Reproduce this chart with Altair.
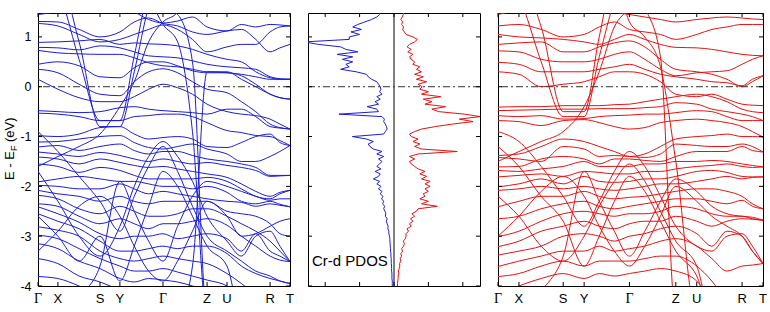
import altair as alt
import pandas as pd

BLUE = "#1c1cd9"
RED = "#e81010"
FONT = "Liberation Sans"

# k-path: sampling points along the path and the labelled high-symmetry points
K_GRID = [0.0, 0.079, 0.163, 0.246, 0.325, 0.382, 0.439, 0.496, 0.554,
          0.613, 0.671, 0.75, 0.807, 0.864, 0.921, 0.96, 1.0]
K_TICKS = [0.0, 0.079, 0.246, 0.325, 0.496, 0.671, 0.75, 0.921, 1.0]
K_NAMES = ["Γ", "X", "S", "Y", "Γ", "Z", "U", "R", "T"]
E_TICKS = [-4, -3, -2, -1, 0, 1]
DOS_TICKS = [-2, -1, 0, 1, 2]
E_MIN, E_MAX = -4.0, 1.48
HI, LO = 2.2, -4.6  # energies outside the window (clipped)

# spin-down bands (eV), one row per band, one value per K_GRID point
bands_dn = [
    [1.45, 1.52, 1.70, 1.75, 1.60, 1.50, 1.35, 1.28, 1.32, 1.40, 1.20, 1.12, 1.25, 1.20, 1.25, 1.24, 1.22],
    [1.31, 1.30, 1.15, 1.00, 1.10, 1.30, 1.38, 1.27, 1.22, 1.10, 1.05, 1.12, 1.15, 0.95, 0.70, 0.78, 0.85],
    [1.27, 1.22, 1.05, 0.90, 0.95, 1.05, 1.15, 1.24, 1.15, 0.95, 0.70, 0.80, 0.85, 0.85, 1.10, 1.20, 1.22],
    [0.89, 0.90, 0.92, 0.95, 0.85, 0.88, 0.86, 0.85, 0.82, 0.75, 0.65, 0.55, 0.50, 0.30, 0.18, 0.15, 0.15],
    [0.79, 0.78, 0.74, 0.82, 0.78, 0.70, 0.62, 0.60, 0.58, 0.52, 0.45, 0.40, 0.38, 0.35, 0.20, 0.16, 0.15],
    [0.73, 0.68, 0.66, 0.65, 0.65, 0.58, 0.48, 0.42, 0.40, 0.35, 0.30, 0.30, 0.15, 0.00, -0.15, -0.22, -0.25],
    [0.45, 0.50, 0.42, 0.20, 0.18, 0.38, 0.50, 0.50, 0.42, 0.32, 0.28, 0.28, 0.22, 0.05, -0.15, -0.22, -0.25],
    [0.35, 0.28, 0.05, -0.15, -0.18, 0.10, 0.30, 0.36, 0.28, 0.10, -0.05, -0.12, -0.30, -0.50, -0.75, -0.82, -0.85],
    [0.15, -0.05, -0.22, -0.30, -0.30, -0.20, -0.05, 0.05, -0.02, -0.15, -0.35, -0.50, -0.55, -0.58, -0.65, -0.75, -0.85],
    [HI, 1.90, 0.55, -0.68, -0.68, 0.62, 1.90, HI],
    [HI, HI, 0.90, -0.80, -0.80, 0.30, 1.60, HI],
    [-1.60, -1.40, -1.20, -0.95, -0.40, 0.10, 0.90, 1.30, 1.50, HI],
    [HI, HI, HI, HI, HI, HI, HI, 1.60, 1.45, 0.50, LO],
    [HI, HI, HI, HI, HI, HI, 1.80, 1.25, 0.90, -0.90, LO],
    [-0.48, -0.50, -0.52, -0.50, -0.42, -0.40, -0.45, -0.48, -0.50, -0.52, -0.55, -0.45, -0.45, -0.60, -0.80, -0.83, -0.85],
    [-0.53, -0.55, -0.60, -0.68, -0.68, -0.60, -0.58, -0.55, -0.55, -0.60, -0.72, -0.88, -0.92, -0.98, -1.00, -1.08, -1.18],
    [-0.98, -1.00, -0.95, -0.82, -0.80, -0.95, -1.05, -1.02, -1.00, -1.05, -1.20, -1.22, -1.12, -1.00, -0.95, -1.12, -1.18],
    [-1.11, -1.10, -1.05, -1.00, -0.98, -1.12, -1.22, -1.25, -1.20, -1.15, -1.25, -1.35, -1.50, -1.50, -1.40, -1.30, -1.18],
    [-1.21, -1.18, -1.28, -1.20, -1.15, -1.28, -1.35, -1.30, -1.30, -1.38, -1.45, -1.50, -1.55, -1.62, -1.78, -1.78, -1.78],
    [-1.31, -1.35, -1.40, -1.32, -1.38, -1.45, -1.50, -1.45, -1.50, -1.55, -1.52, -1.58, -1.62, -1.68, -1.80, -1.79, -1.78],
    [-1.41, -1.45, -1.55, -1.45, -1.52, -1.58, -1.62, -1.60, -1.65, -1.70, -1.75, -1.82, -1.95, -2.10, -2.20, -2.12, -2.08],
    [-1.55, -1.60, -1.72, -1.62, -1.68, -1.78, -1.85, -1.85, -1.85, -1.85, -1.82, -1.90, -2.05, -2.20, -2.25, -2.15, -2.08],
    [-1.91, -1.85, -1.80, -1.85, -1.90, -1.90, -1.95, -2.00, -2.00, -2.05, -2.00, -2.12, -2.30, -2.35, -2.30, -2.36, -2.41],
    [-1.98, -2.00, -2.05, -2.05, -1.95, -2.05, -2.15, -2.10, -2.15, -2.20, -2.25, -2.30, -2.32, -2.40, -2.35, -2.38, -2.41],
    [-2.08, -2.15, -2.20, -2.30, -2.20, -2.30, -2.35, -2.30, -2.30, -2.30, -2.30, -2.50, -2.55, -2.60, -2.75, -2.95, -3.00],
    [-2.18, -2.25, -2.45, -2.55, -2.40, -2.50, -2.60, -2.60, -2.55, -2.45, -2.45, -2.60, -2.75, -2.90, -3.10, -3.30, -3.51],
    [-2.35, -2.40, -2.60, -2.75, -2.65, -2.75, -2.85, -2.75, -2.75, -2.70, -2.65, -2.78, -3.00, -3.20, -3.40, -3.48, -3.51],
    [-2.41, -2.55, -2.72, -2.95, -3.05, -3.00, -3.00, -2.95, -3.05, -3.00, -2.95, -3.05, -3.30, -2.95, -3.30, -3.40, -3.51],
    [-2.55, -2.70, -2.85, -3.10, -3.30, -3.30, -3.25, -3.20, -3.25, -3.20, -3.20, -3.35, -3.60, -3.75, -3.85, -3.90, -3.95],
    [-2.81, -2.88, -3.00, -3.30, -3.45, -3.50, -3.45, -3.40, -3.45, -3.50, -3.55, -3.75, -3.95, -4.20, LO],
    [-2.98, -3.05, -3.25, -3.45, -3.60, -3.70, -3.70, -3.65, -3.72, -3.80, -3.88, -4.00, -4.30, LO],
    [-3.15, -3.25, -3.50, -3.65, -3.85, -3.92, -3.85, -3.88, -3.92, -4.00, -4.10, -4.30, LO],
    [-3.45, -3.55, -3.80, -3.92, -4.10, -4.30, LO],
    [-3.81, -3.85, -4.00, -4.20, LO],
    [-2.60, -3.00, -3.50, -3.00, -3.90, -3.20, -2.40, -1.70, -2.00, -2.60, -3.20, -3.60, LO],
    [LO, LO, -4.20, -3.60, -1.90, -2.50, -3.10, -3.50, -2.80, -2.20, -1.90, -2.00, -2.10, -2.20, -2.28, -2.25, -2.25],
    [LO, LO, LO, LO, LO, LO, LO, LO, LO, -3.60, 0.30, 0.28, 0.25, 0.20, 0.15, 0.15, 0.15],
    [-1.70, -2.30, -3.00, -3.40, -2.80, -2.00, -1.40, -1.10, -1.40, -1.90, -2.60, -3.10, -3.40, -3.00, -2.90, -3.20, -3.51],
    [-3.30, -2.90, -2.40, -2.20, -2.60, -3.20, -3.70, -3.90, -3.50, -2.90, -2.30, -2.60, -3.00, -2.95, -2.80, -2.70, -2.65],
    [-0.90, -1.30, -1.80, -2.30, -2.90, -2.20, -1.60, -1.20, -1.70, -2.40, -3.00, -3.30, -3.50, -3.70, -3.80, -3.90, -3.95],
]

# spin-up bands (eV)
bands_up = [
    [1.45, 1.55, 1.70, 1.70, 1.70, 1.60, 1.50, 1.45, 1.40, 1.35, 1.30, 1.35, 1.38, 1.40, 1.38, 1.36, 1.35],
    [1.22, 1.25, 1.15, 1.00, 1.05, 1.20, 1.30, 1.15, 1.10, 1.05, 0.95, 1.05, 1.15, 1.20, 1.25, 1.25, 1.25],
    [1.05, 1.00, 0.98, 0.95, 0.90, 0.85, 0.95, 1.05, 0.95, 0.85, 0.79, 0.78, 0.75, 0.70, 0.65, 0.63, 0.62],
    [0.85, 0.88, 0.90, 0.70, 0.70, 0.80, 0.88, 0.92, 0.80, 0.55, 0.35, 0.30, 0.25, 0.15, 0.00, 0.10, 0.22],
    [0.72, 0.70, 0.55, 0.50, 0.50, 0.55, 0.65, 0.70, 0.55, 0.35, 0.22, 0.28, 0.30, 0.32, 0.45, 0.55, 0.62],
    [0.49, 0.45, 0.30, 0.30, 0.30, 0.35, 0.40, 0.45, 0.35, 0.25, 0.20, 0.15, 0.10, 0.08, 0.02, 0.15, 0.22],
    [0.30, 0.25, 0.00, 0.05, 0.10, 0.20, 0.30, 0.30, 0.25, 0.10, -0.15, -0.20, -0.15, -0.25, -0.35, -0.37, -0.38],
    [HI, HI, 1.20, -0.50, -0.50, 1.00, HI],
    [HI, 1.80, 0.50, -0.60, -0.60, 0.60, 1.70, HI],
    [HI, HI, HI, HI, HI, HI, HI, HI, 1.60, 0.60, LO],
    [HI, HI, HI, HI, HI, HI, HI, 1.30, 1.00, 0.40, -1.50, LO],
    [-1.50, -1.30, -1.10, -0.90, -0.40, 0.30, 1.20, 1.60, HI],
    [-0.41, -0.40, -0.40, -0.38, -0.38, -0.38, -0.36, -0.35, -0.30, -0.25, -0.20, -0.15, -0.20, -0.30, -0.45, -0.50, -0.52],
    [-0.48, -0.47, -0.46, -0.45, -0.45, -0.44, -0.44, -0.44, -0.42, -0.40, -0.32, -0.35, -0.45, -0.50, -0.55, -0.60, -0.68],
    [-0.58, -0.60, -0.58, -0.65, -0.64, -0.60, -0.58, -0.57, -0.55, -0.55, -0.52, -0.48, -0.50, -0.60, -0.68, -0.68, -0.68],
    [-0.68, -0.70, -0.78, -0.68, -0.66, -0.72, -0.80, -0.85, -0.82, -0.72, -0.68, -0.65, -0.68, -0.72, -0.80, -0.90, -1.01],
    [-1.38, -1.35, -1.20, -1.05, -1.10, -1.20, -1.30, -1.40, -1.35, -1.20, -1.05, -1.00, -0.98, -0.95, -1.00, -1.00, -1.01],
    [-1.42, -1.45, -1.50, -1.20, -1.25, -1.40, -1.38, -1.40, -1.42, -1.35, -1.15, -1.18, -1.20, -1.20, -1.15, -1.20, -1.31],
    [-1.61, -1.60, -1.45, -1.40, -1.45, -1.55, -1.45, -1.45, -1.48, -1.50, -1.40, -1.30, -1.30, -1.30, -1.20, -1.28, -1.31],
    [-1.68, -1.70, -1.65, -1.60, -1.50, -1.60, -1.60, -1.60, -1.55, -1.55, -1.50, -1.50, -1.48, -1.50, -1.55, -1.58, -1.61],
    [-1.81, -1.78, -1.75, -1.80, -1.70, -1.72, -1.75, -1.75, -1.70, -1.70, -1.65, -1.60, -1.58, -1.55, -1.60, -1.62, -1.61],
    [-2.01, -1.95, -1.85, -1.95, -1.80, -1.90, -1.92, -1.90, -1.85, -1.85, -1.80, -1.70, -1.68, -1.72, -1.80, -1.81, -1.81],
    [-2.08, -2.05, -2.00, -2.05, -2.00, -2.05, -2.08, -2.05, -2.00, -1.95, -1.95, -1.90, -1.85, -1.80, -1.85, -1.82, -1.81],
    [-2.41, -2.30, -2.20, -2.20, -2.10, -2.20, -2.25, -2.22, -2.20, -2.15, -2.10, -2.05, -2.05, -2.10, -2.20, -2.35, -2.45],
    [-2.65, -2.60, -2.45, -2.35, -2.30, -2.40, -2.45, -2.40, -2.35, -2.30, -2.25, -2.25, -2.30, -2.35, -2.28, -2.40, -2.45],
    [-3.01, -2.90, -2.70, -2.55, -2.50, -2.55, -2.60, -2.55, -2.55, -2.50, -2.40, -2.45, -2.55, -2.60, -2.60, -2.65, -2.68],
    [-3.21, -3.10, -2.90, -2.80, -2.70, -2.80, -2.85, -2.75, -2.70, -2.70, -2.60, -2.70, -2.80, -2.70, -2.65, -2.66, -2.68],
    [-3.38, -3.30, -3.20, -3.00, -2.95, -3.00, -3.10, -3.00, -2.95, -2.85, -2.80, -2.95, -3.20, -2.90, -3.00, -3.30, -3.55],
    [-3.61, -3.50, -3.40, -3.30, -3.30, -3.20, -3.30, -3.25, -3.20, -3.10, -3.05, -3.20, -3.45, -3.70, -3.60, -3.58, -3.55],
    [-3.81, -3.75, -3.60, -3.50, -3.60, -3.50, -3.50, -3.50, -3.45, -3.40, -3.40, -3.60, -3.90, -4.30, LO],
    [-4.20, -4.00, -3.85, -3.75, -3.85, -3.75, -3.80, -3.75, -3.70, -3.65, -3.70, -3.90, -4.30, LO],
    [-2.20, -2.60, -3.20, -3.50, -3.00, -2.40, -1.90, -1.55, -1.90, -2.50, -3.10, -3.60, LO],
    [LO, LO, -4.10, -3.40, -1.70, -2.30, -2.90, -3.40, -2.90, -2.30, -1.85, -2.10, -2.40, -2.55, -2.60, -2.62, -2.68],
    [-1.20, -1.60, -2.20, -2.70, -3.60, -3.00, -2.30, -1.80, -2.10, -2.70, -3.30, -3.80, LO],
    [-0.90, -1.10, -1.60, -2.20, -2.80, -2.30, -1.70, -1.30, -1.60, -2.20, -2.80, -3.20, -3.30, -3.00, -2.95, -3.20, -3.55],
    [-3.00, -2.60, -2.10, -1.80, -2.20, -2.80, -3.30, -3.60, -3.20, -2.60, -2.00, -2.30, -2.60, -2.80, -3.00, -3.30, -3.55],
]

# Cr-d projected DOS on the energy grid -4.00 ... 1.50 eV (step 0.05)
dos_energy = [-4.00, -3.95, -3.90, -3.85, -3.80, -3.75, -3.70, -3.65, -3.60, -3.55,
              -3.50, -3.45, -3.40, -3.35, -3.30, -3.25, -3.20, -3.15, -3.10, -3.05,
              -3.00, -2.95, -2.90, -2.85, -2.80, -2.75, -2.70, -2.65, -2.60, -2.55,
              -2.50, -2.45, -2.40, -2.35, -2.30, -2.25, -2.20, -2.15, -2.10, -2.05,
              -2.00, -1.95, -1.90, -1.85, -1.80, -1.75, -1.70, -1.65, -1.60, -1.55,
              -1.50, -1.45, -1.40, -1.35, -1.30, -1.25, -1.20, -1.15, -1.10, -1.05,
              -1.00, -0.95, -0.90, -0.85, -0.80, -0.75, -0.70, -0.65, -0.60, -0.55,
              -0.50, -0.45, -0.40, -0.35, -0.30, -0.25, -0.20, -0.15, -0.10, -0.05,
              0.00, 0.05, 0.10, 0.15, 0.20, 0.25, 0.30, 0.35, 0.40, 0.45,
              0.50, 0.55, 0.60, 0.65, 0.70, 0.75, 0.80, 0.85, 0.90, 0.95,
              1.00, 1.05, 1.10, 1.15, 1.20, 1.25, 1.30, 1.35, 1.40, 1.45, 1.50]
dos_dn = [-0.05, -0.05, -0.05, -0.06, -0.06, -0.06, -0.07, -0.07, -0.07, -0.08,
          -0.08, -0.08, -0.09, -0.09, -0.10, -0.10, -0.11, -0.11, -0.12, -0.12,
          -0.13, -0.15, -0.15, -0.18, -0.17, -0.20, -0.22, -0.20, -0.25, -0.24,
          -0.26, -0.30, -0.27, -0.33, -0.30, -0.36, -0.32, -0.40, -0.35, -0.45,
          -0.38, -0.50, -0.42, -0.60, -0.45, -0.40, -0.55, -0.38, -0.50, -0.42,
          -0.35, -0.45, -0.30, -0.50, -0.35, -0.60, -0.70, -0.75, -0.60, -0.80,
          -1.21, -0.30, -0.25, -0.20, -0.22, -0.25, -0.30, -0.28, -0.35, -1.60,
          -0.45, -0.50, -0.78, -0.45, -0.55, -0.40, -0.50, -0.35, -0.42, -0.38,
          -0.40, -0.45, -0.50, -0.65, -0.75, -0.80, -1.10, -1.55, -1.30, -1.40,
          -1.20, -1.50, -1.20, -1.65, -1.05, -1.40, -1.55, -2.20, -2.60, -1.30,
          -1.30, -1.00, -1.25, -0.95, -1.20, -1.05, -0.85, -0.65, -0.50, -0.42, -0.40]
dos_up = [0.10, 0.10, 0.11, 0.12, 0.12, 0.14, 0.13, 0.15, 0.17, 0.16,
          0.20, 0.18, 0.22, 0.20, 0.25, 0.22, 0.28, 0.30, 0.27, 0.33,
          0.35, 0.35, 0.42, 0.38, 0.50, 0.45, 0.55, 0.48, 0.60, 0.52,
          0.65, 0.70, 1.26, 0.80, 1.00, 0.75, 0.90, 0.85, 1.00, 0.90,
          1.05, 0.90, 1.05, 0.80, 0.95, 0.75, 0.90, 0.70, 0.60, 0.50,
          0.45, 0.60, 0.45, 0.70, 1.84, 0.80, 0.60, 0.75, 0.55, 0.70,
          0.50, 0.45, 0.60, 0.80, 1.20, 1.70, 2.30, 1.90, 2.50, 2.05,
          1.30, 1.10, 1.50, 0.90, 1.10, 0.85, 1.36, 0.80, 1.00, 0.75,
          0.82, 0.70, 0.95, 0.65, 0.85, 0.60, 0.80, 0.65, 0.75, 0.55,
          0.60, 0.50, 0.45, 0.55, 0.40, 0.50, 0.38, 0.45, 0.60, 0.68,
          0.55, 0.35, 0.30, 0.25, 0.28, 0.22, 0.25, 0.20, 0.24, 0.27, 0.29]

H = 273
W_BAND_L, W_DOS, W_BAND_R = 252, 172, 265

e_scale = alt.Scale(domain=[E_MIN, E_MAX], nice=False, zero=False)
k_scale = alt.Scale(domain=[0, 1], nice=False, zero=False)
d_scale = alt.Scale(domain=[-2.5, 2.5], nice=False, zero=False)


def full(vals):
    return list(vals) + [vals[-1]] * (len(K_GRID) - len(vals))


def band_frame(bands):
    rows = []
    for b, vals in enumerate(bands):
        for k, e in zip(K_GRID, full(vals)):
            rows.append({"band": b, "k": k, "E": e})
    return pd.DataFrame(rows)


def e_enc(show_labels):
    if show_labels:
        ax = alt.Axis(values=E_TICKS, ticks=False, tickSize=0, domain=False, grid=False,
                      labelPadding=7, labelExpr="'' + datum.value", title=None)
    else:
        ax = None
    return alt.Y("E:Q", scale=e_scale, axis=ax)


def frame_ticks(width, y_enc, x_field, x_scale, x_values):
    """Inward tick marks on all four sides of a panel."""
    xt = pd.DataFrame({x_field: x_values})
    yt = pd.DataFrame({"E": E_TICKS})
    xenc = alt.X(f"{x_field}:Q", scale=x_scale, axis=None)
    tick = dict(color="black", strokeWidth=1)
    return [
        alt.Chart(xt).mark_rule(**tick).encode(x=xenc, y=alt.value(0), y2=alt.value(4)),
        alt.Chart(xt).mark_rule(**tick).encode(x=xenc, y=alt.value(H - 4), y2=alt.value(H)),
        alt.Chart(yt).mark_rule(**tick).encode(y=y_enc, x=alt.value(0), x2=alt.value(4)),
        alt.Chart(yt).mark_rule(**tick).encode(y=y_enc, x=alt.value(width - 4), x2=alt.value(width)),
    ]


def fermi(y_enc):
    return alt.Chart(pd.DataFrame({"E": [0.0]})).mark_rule(
        color="#333333", strokeWidth=1, strokeDash=[7, 3, 2, 3]
    ).encode(y=y_enc)


def band_panel(bands, color, width, show_labels):
    y = e_enc(show_labels)
    kx = alt.X("k:Q", scale=k_scale, axis=None)
    lines = alt.Chart(band_frame(bands)).mark_line(
        interpolate="monotone", clip=True, strokeWidth=1, color=color
    ).encode(x=kx, y=y, detail="band:N")
    names = pd.DataFrame({"k": K_TICKS, "name": K_NAMES})
    latin = alt.Chart(names).transform_filter("datum.name != 'Γ'").mark_text(
        font=FONT, fontSize=13, baseline="middle", align="center", color="black"
    ).encode(x=kx, y=alt.value(H + 13), text="name:N")
    greek = alt.Chart(names).transform_filter("datum.name == 'Γ'").mark_text(
        font="Liberation Serif", fontSize=14, baseline="middle", align="center", color="black"
    ).encode(x=kx, y=alt.value(H + 13), text="name:N")
    layers = [lines, fermi(y)] + frame_ticks(width, y, "k", k_scale, K_TICKS) + [latin, greek]
    if show_labels:
        t = dict(font=FONT, angle=270, baseline="middle", align="left", color="black")
        layers += [
            alt.Chart(pd.DataFrame({"s": ["E - E"]})).mark_text(fontSize=13, **t).encode(
                text="s:N", x=alt.value(-28), y=alt.value(167)),
            alt.Chart(pd.DataFrame({"s": ["F"]})).mark_text(fontSize=9, **t).encode(
                text="s:N", x=alt.value(-24), y=alt.value(138)),
            alt.Chart(pd.DataFrame({"s": ["(eV)"]})).mark_text(fontSize=13, **t).encode(
                text="s:N", x=alt.value(-28), y=alt.value(129)),
        ]
    return alt.layer(*layers).properties(width=width, height=H)


def dos_panel():
    y = e_enc(False)
    df = pd.concat([
        pd.DataFrame({"E": dos_energy, "dos": dos_dn, "spin": "down"}),
        pd.DataFrame({"E": dos_energy, "dos": dos_up, "spin": "up"}),
    ])
    dx = alt.X("dos:Q", scale=d_scale,
               axis=alt.Axis(values=DOS_TICKS, ticks=False, tickSize=0, domain=False, grid=False,
                             labelPadding=7, labelExpr="'' + datum.value", title=None))
    curves = alt.Chart(df).mark_line(clip=True, strokeWidth=1).encode(
        x=dx, y=y, order="E:Q",
        color=alt.Color("spin:N", scale=alt.Scale(domain=["down", "up"], range=[BLUE, RED]), legend=None),
    )
    zero = alt.Chart(pd.DataFrame({"dos": [0.0]})).mark_rule(color="black", strokeWidth=1).encode(x=dx)
    label = alt.Chart(pd.DataFrame({"s": ["Cr-d PDOS"]})).mark_text(
        font=FONT, fontSize=15, align="left", baseline="middle", color="black"
    ).encode(text="s:N", x=alt.value(4), y=alt.value(248))
    layers = [curves, zero, fermi(y)] + frame_ticks(W_DOS, y, "dos", d_scale, DOS_TICKS) + [label]
    return alt.layer(*layers).properties(width=W_DOS, height=H)


chart = alt.hconcat(
    band_panel(bands_dn, BLUE, W_BAND_L, True),
    dos_panel(),
    band_panel(bands_up, RED, W_BAND_R, False),
    spacing=18,
    bounds="flush",
).properties(
    padding={"left": 3, "top": 12, "right": 0, "bottom": 0},
).configure_view(
    stroke="black", strokeWidth=1
).configure_axis(
    labelFont=FONT, labelFontSize=12.5, labelColor="black"
)

chart.save("out.html", embed_options={"renderer": "svg", "actions": False})
